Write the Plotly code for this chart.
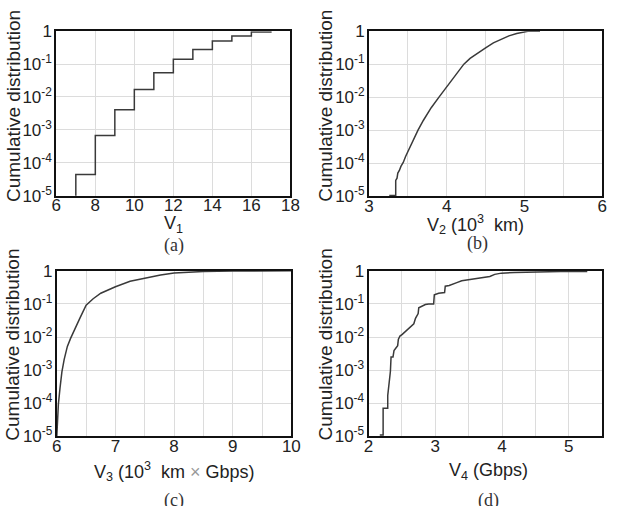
import plotly.graph_objects as go

W, H = 618, 506

# ---------- data ----------
# (a) V1 step CDF
a_x = [7, 7, 8, 9, 10, 11, 12, 13, 14, 15, 16, 17]
a_y = [1e-6, 4.4e-5, 6.8e-4, 4.1e-3, 0.0168, 0.054, 0.139, 0.278, 0.50, 0.715, 0.935, 1.0]

# (b) V2 (10^3 km)
b_x = [3.26, 3.343, 3.343, 3.36, 3.37, 3.39, 3.41, 3.44, 3.47, 3.51, 3.56, 3.63, 3.70,
       3.80, 3.90, 4.00, 4.10, 4.22, 4.30, 4.40, 4.50, 4.60, 4.70, 4.80, 4.90, 5.00, 5.06, 5.2]
b_y = [1.05e-5, 1.05e-5, 3.0e-5, 3.5e-5, 5.0e-5, 6.0e-5, 8.0e-5, 1.05e-4, 1.6e-4, 2.6e-4,
       4.3e-4, 1.0e-3, 2.0e-3, 4.8e-3, 1.0e-2, 2.1e-2, 4.2e-2, 0.10, 0.15, 0.21, 0.31,
       0.44, 0.57, 0.72, 0.85, 0.95, 1.0, 1.0]

# (c) V3 (10^3 km x Gbps)
c_x = [6.0, 6.01, 6.027, 6.055, 6.087, 6.126, 6.18, 6.235, 6.317, 6.40, 6.50, 6.62, 6.75,
       7.0, 7.25, 7.5, 7.77, 8.0, 8.5, 9.0, 10.0]
c_y = [1e-5, 3.8e-5, 9.3e-5, 2.9e-4, 8.8e-4, 2.1e-3, 5.2e-3, 9.1e-3, 0.020, 0.039, 0.091,
       0.143, 0.21, 0.33, 0.48, 0.61, 0.75, 0.855, 0.95, 0.98, 1.0]

# (d) V4 (Gbps)
d_x = [2.168, 2.218, 2.218, 2.287, 2.287, 2.302, 2.312, 2.327, 2.337, 2.366, 2.381, 2.406,
       2.436, 2.446, 2.47, 2.505, 2.554, 2.604, 2.653, 2.678, 2.703, 2.728, 2.743, 2.752,
       2.792, 2.851, 2.901, 2.975, 2.985, 3.05, 3.139, 3.149, 3.208, 3.287, 3.322, 3.396,
       3.545, 3.693, 3.817, 3.89, 3.99, 4.188, 4.485, 4.88, 5.277]
d_y = [1.09e-5, 1.09e-5, 7.0e-5, 7.0e-5, 1.7e-4, 3.0e-4, 4.7e-4, 9.1e-4, 2.5e-3, 2.5e-3,
       3.9e-3, 4.6e-3, 5.5e-3, 8.5e-3, 0.0107, 0.012, 0.0149, 0.0187, 0.0224, 0.025, 0.0366,
       0.043, 0.051, 0.0764, 0.083, 0.096, 0.10, 0.10, 0.187, 0.21, 0.22, 0.342, 0.36, 0.40,
       0.44, 0.50, 0.56, 0.62, 0.67, 0.78, 0.85, 0.89, 0.93, 0.945, 0.96]

y_tickvals = [1e-5, 1e-4, 1e-3, 1e-2, 1e-1, 1]
y_ticktext = ["10<sup>-5</sup>", "10<sup>-4</sup>", "10<sup>-3</sup>",
              "10<sup>-2</sup>", "10<sup>-1</sup>", "1"]

a_ticks = [6, 8, 10, 12, 14, 16, 18]
b_ticks = [3, 4, 5, 6]
c_ticks = [6, 7, 8, 9, 10]
d_ticks = [2, 3, 4, 5]

y_title = "Cumulative distribution"
x_titles = ["V<sub>1</sub>",
            "V<sub>2</sub> (10<sup>3</sup>  km)",
            "V<sub>3</sub> (10<sup>3</sup>  km <span style='color:#999'>×</span> Gbps)",
            "V<sub>4</sub> (Gbps)"]
captions = ["(a)", "(b)", "(c)", "(d)"]

# ---------- layout geometry (pixels) ----------
panels = [
    dict(x=a_x, y=a_y, shape="hv", xr=[6, 18], ticks=a_ticks, minor=None,
         box=(52.5, 292, 23, 194), ytc=101, xt=(172, 224), cap=(173, 246)),
    dict(x=b_x, y=b_y, shape="linear", xr=[3, 6], ticks=b_ticks, minor=0.5,
         box=(372.5, 611, 23, 194.5), ytc=101, xt=(481, 224), cap=(483, 244)),
    dict(x=c_x, y=c_y, shape="linear", xr=[6, 10], ticks=c_ticks, minor=0.5,
         box=(53, 293, 272, 444), ytc=349, xt=(173, 481), cap=(173, 511)),
    dict(x=d_x, y=d_y, shape="linear", xr=[2, 5.5], ticks=d_ticks, minor=0.5,
         box=(372, 611, 272, 444), ytc=349, xt=(495, 481), cap=(495, 511)),
]

FONT = "Liberation Sans, Arial, sans-serif"
GRID = "#dcdcdc"

fig = go.Figure()
ann = []
for i, p in enumerate(panels):
    n = "" if i == 0 else str(i + 1)
    fig.add_trace(go.Scatter(x=p["x"], y=p["y"], mode="lines",
                             line=dict(color="#3a3a3a", width=1.5, shape=p["shape"]),
                             xaxis="x" + n, yaxis="y" + n, showlegend=False,
                             cliponaxis=True))
    x0, x1, y0, y1 = p["box"]
    xa = dict(domain=[x0 / W, x1 / W], range=p["xr"], anchor="y" + n,
              tickvals=p["ticks"], ticktext=[str(t) for t in p["ticks"]],
              ticks="", showgrid=True, gridcolor=GRID, gridwidth=1,
              showline=True, mirror=True, linecolor="#111", linewidth=2,
              zeroline=False, tickfont=dict(family=FONT, size=17, color="#222"),
              ticklabelstandoff=-7)
    if p["minor"]:
        xa["minor"] = dict(dtick=p["minor"], showgrid=True, gridcolor=GRID, gridwidth=1, ticks="")
    ya = dict(domain=[1 - y1 / H, 1 - y0 / H], type="log", range=[-5, 0],
              anchor="x" + n, tickvals=y_tickvals, ticktext=y_ticktext,
              ticks="", showgrid=True, gridcolor=GRID, gridwidth=1,
              showline=True, mirror=True, linecolor="#111", linewidth=2,
              zeroline=False, tickfont=dict(family=FONT, size=17, color="#222"),
              ticklabelstandoff=-1)
    fig.layout["xaxis" + n] = xa
    fig.layout["yaxis" + n] = ya

    ytx = 8 if i % 2 == 0 else 328
    ann.append(dict(text=y_title, x=ytx / W, y=1 - p["ytc"] / H, xref="paper", yref="paper",
                    textangle=-90, showarrow=False, xanchor="center", yanchor="middle",
                    font=dict(family=FONT, size=19, color="#222")))
    ann.append(dict(text=x_titles[i], x=p["xt"][0] / W, y=1 - p["xt"][1] / H,
                    xref="paper", yref="paper", showarrow=False,
                    xanchor="center", yanchor="middle",
                    font=dict(family=FONT, size=18, color="#222")))
    ann.append(dict(text=captions[i], x=p["cap"][0] / W, y=1 - p["cap"][1] / H,
                    xref="paper", yref="paper", showarrow=False,
                    xanchor="center", yanchor="middle",
                    font=dict(family="Liberation Serif, Times New Roman, serif", size=18, color="#333")))

fig.update_layout(width=W, height=H, margin=dict(l=0, r=0, t=0, b=0),
                  paper_bgcolor="white", plot_bgcolor="white",
                  annotations=ann, showlegend=False)

fig.write_html("out.html")
